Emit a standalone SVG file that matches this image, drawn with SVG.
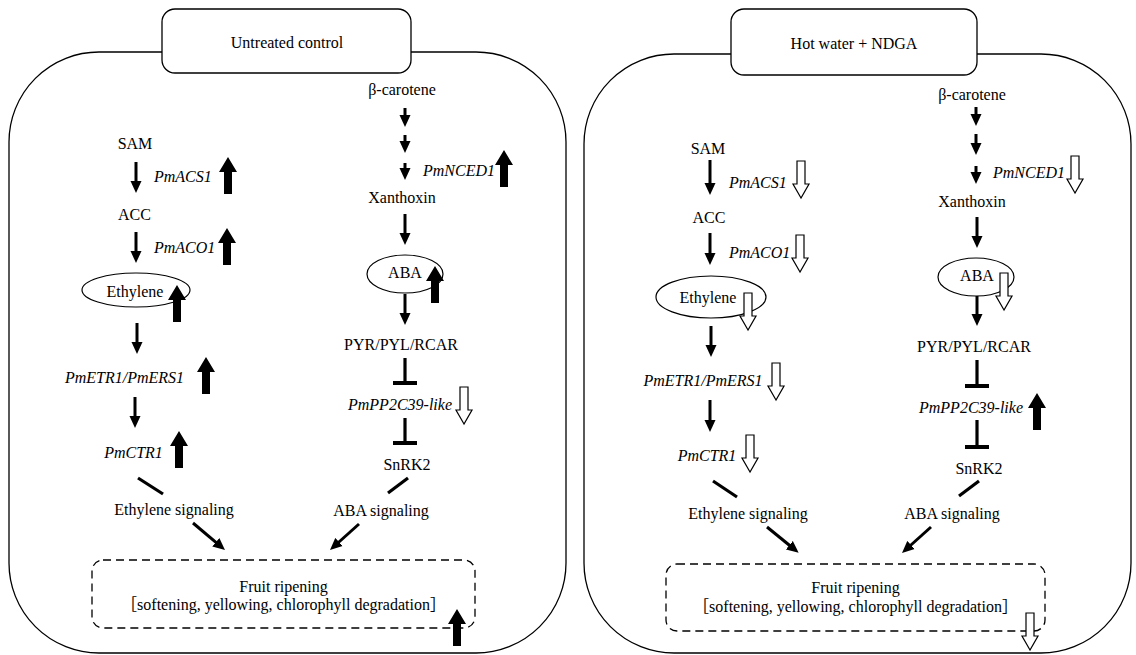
<svg xmlns="http://www.w3.org/2000/svg" width="1136" height="655" viewBox="0 0 1136 655">
<defs>
<style>
text{font-family:'Liberation Serif','DejaVu Serif',serif;font-size:16px;fill:#000}
.br{font-family:'Liberation Serif','Noto Sans CJK SC',serif}
.c{text-anchor:middle}
.i{font-style:italic}
.panel{fill:none;stroke:#000;stroke-width:1.3}
.title{fill:#fff;stroke:#000;stroke-width:1.3}
.dash{fill:none;stroke:#000;stroke-width:1.3;stroke-dasharray:8 5}
.ell{fill:none;stroke:#000;stroke-width:1.2}
.ar{stroke:#000;stroke-width:3;fill:none;marker-end:url(#ah)}
.ln{stroke:#000;stroke-width:3.2;fill:none}
.tb{stroke:#000;stroke-width:4;fill:none}
</style>
<marker id="ah" markerUnits="userSpaceOnUse" markerWidth="12" markerHeight="12" viewBox="0 0 12 12" refX="6" refY="6" orient="auto"><path d="M0,0.5 L12,6 L0,11.5 Z" fill="#000"/></marker>
<path id="up" d="M0,0 L9,15 L4,15 L4,37 L-4,37 L-4,15 L-9,15 Z" fill="#000"/>
<path id="dn" d="M0,0 L-8,-14 L-4,-14 L-4,-37 L4,-37 L4,-14 L8,-14 Z" fill="#fff" stroke="#000" stroke-width="1.2"/>
</defs>
<rect width="1136" height="655" fill="#fff"/>
<g font-family="Liberation Serif, DejaVu Serif, serif">
<!-- LEFT PANEL -->
<g id="panel-left">
<rect class="panel" x="9" y="52" width="557" height="601" rx="90" ry="90"/>
</g>
<g id="title-left">
<rect class="title" x="162" y="9" width="249" height="64" rx="13" ry="13"/>
<text class="c" x="287" y="48">Untreated control</text>
</g>
<g id="L-sam"><text class="c" x="135" y="148.5">SAM</text></g>
<g id="L-acs1"><text class="i" x="154" y="181.5">PmACS1</text><use href="#up" x="228" y="157"/></g>
<g id="L-acc"><text class="c" x="134.5" y="219.5">ACC</text></g>
<g id="L-aco1"><text class="i" x="154" y="252.5">PmACO1</text><use href="#up" x="227" y="228"/></g>
<g id="L-ethylene"><ellipse class="ell" cx="136" cy="290" rx="54" ry="17"/><text class="c" x="135" y="297">Ethylene</text><use href="#up" x="177" y="285"/></g>
<g id="L-etr1"><text class="i c" x="124.5" y="382.5">PmETR1/PmERS1</text><use href="#up" x="206" y="357"/></g>
<g id="L-ctr1"><text class="i c" x="133.5" y="457.5">PmCTR1</text><use href="#up" x="179" y="431"/></g>
<g id="L-ethsig"><text class="c" x="174" y="514.5">Ethylene signaling</text></g>
<g id="L-bcar"><text class="c" x="402" y="95">β-carotene</text></g>
<g id="L-nced1"><text class="i" x="423" y="175.5">PmNCED1</text><use href="#up" x="504" y="150"/></g>
<g id="L-xanth"><text class="c" x="402" y="202.5">Xanthoxin</text></g>
<g id="L-aba"><ellipse class="ell" cx="405" cy="274" rx="38" ry="19"/><text class="c" x="405" y="277.5">ABA</text><use href="#up" x="435" y="266"/></g>
<g id="L-pyr"><text class="c" x="401" y="349.5">PYR/PYL/RCAR</text></g>
<g id="L-pp2c"><text class="i c" x="400" y="409.5">PmPP2C39-like</text><use href="#dn" x="464" y="424"/></g>
<g id="L-snrk2"><text class="c" x="407" y="469.5">SnRK2</text></g>
<g id="L-abasig"><text class="c" x="381" y="515.5">ABA signaling</text></g>
<g id="L-ripening">
<rect class="dash" x="92" y="560" width="383" height="68" rx="11" ry="11"/>
<text class="c" x="283.5" y="592">Fruit ripening</text>
<text class="c br" x="283.5" y="610">［softening, yellowing, chlorophyll degradation］</text>
<use href="#up" x="457" y="609"/>
</g>

<!-- RIGHT PANEL -->
<g id="panel-right">
<rect class="panel" x="584" y="54" width="547" height="599" rx="90" ry="90"/>
</g>
<g id="title-right">
<rect class="title" x="731" y="9" width="246" height="66" rx="13" ry="13"/>
<text class="c" x="854" y="49">Hot water + NDGA</text>
</g>
<g id="R-sam"><text class="c" x="708" y="153.5">SAM</text></g>
<g id="R-acs1"><text class="i" x="729" y="187.5">PmACS1</text><use href="#dn" x="801" y="198"/></g>
<g id="R-acc"><text class="c" x="709" y="222.5">ACC</text></g>
<g id="R-aco1"><text class="i" x="729" y="257.5">PmACO1</text><use href="#dn" x="800" y="272"/></g>
<g id="R-ethylene"><ellipse class="ell" cx="711" cy="297" rx="55" ry="21"/><text class="c" x="708" y="302.5">Ethylene</text><use href="#dn" x="748" y="330"/></g>
<g id="R-etr1"><text class="i c" x="703" y="385.5">PmETR1/PmERS1</text><use href="#dn" x="776" y="400"/></g>
<g id="R-ctr1"><text class="i c" x="707" y="461">PmCTR1</text><use href="#dn" x="750" y="472"/></g>
<g id="R-ethsig"><text class="c" x="748" y="518.5">Ethylene signaling</text></g>
<g id="R-bcar"><text class="c" x="972" y="100">β-carotene</text></g>
<g id="R-nced1"><text class="i" x="993" y="177.5">PmNCED1</text><use href="#dn" x="1075" y="193"/></g>
<g id="R-xanth"><text class="c" x="972" y="206.5">Xanthoxin</text></g>
<g id="R-aba"><ellipse class="ell" cx="976" cy="277" rx="38" ry="19"/><text class="c" x="977" y="280.5">ABA</text><use href="#dn" x="1004" y="310"/></g>
<g id="R-pyr"><text class="c" x="974" y="351.5">PYR/PYL/RCAR</text></g>
<g id="R-pp2c"><text class="i c" x="971" y="412.5">PmPP2C39-like</text><use href="#up" x="1037" y="393"/></g>
<g id="R-snrk2"><text class="c" x="979" y="473.5">SnRK2</text></g>
<g id="R-abasig"><text class="c" x="952" y="518.5">ABA signaling</text></g>
<g id="R-ripening">
<rect class="dash" x="666" y="564" width="379" height="67" rx="11" ry="11"/>
<text class="c" x="855.5" y="593">Fruit ripening</text>
<text class="c br" x="855.5" y="612">［softening, yellowing, chlorophyll degradation］</text>
<use href="#dn" x="1030" y="650"/>
</g>

<!-- CONNECTORS -->
<g id="connectors">
<line class="ar" x1="136" y1="162" x2="136" y2="187"/>
<line class="ar" x1="136" y1="232" x2="136" y2="257"/>
<line class="ar" x1="137" y1="323" x2="137" y2="348"/>
<line class="ar" x1="135" y1="397" x2="135" y2="422"/>
<line class="ar" x1="405" y1="108" x2="405" y2="121"/>
<line class="ar" x1="405" y1="135" x2="405" y2="147"/>
<line class="ar" x1="405" y1="163" x2="405" y2="174"/>
<line class="ar" x1="405" y1="214" x2="405" y2="239"/>
<line class="ar" x1="405" y1="294" x2="405" y2="319"/>
<line class="ln" x1="405" y1="358" x2="405" y2="381"/>
<line class="tb" x1="393" y1="383" x2="417" y2="383"/>
<line class="ln" x1="405" y1="418" x2="405" y2="441"/>
<line class="tb" x1="393" y1="443" x2="417" y2="443"/>
<line class="ln" x1="138" y1="478" x2="163" y2="494"/>
<line class="ln" x1="408" y1="478" x2="388" y2="493"/>
<line class="ar" x1="193" y1="523" x2="220.4" y2="546.1"/>
<line class="ar" x1="359" y1="524" x2="334.5" y2="546"/>

<line class="ar" x1="710" y1="160" x2="710" y2="189"/>
<line class="ar" x1="710" y1="233" x2="710" y2="259"/>
<line class="ar" x1="711" y1="326" x2="711" y2="351"/>
<line class="ar" x1="710" y1="400" x2="710" y2="426"/>
<line class="ar" x1="976" y1="107" x2="976" y2="120"/>
<line class="ar" x1="976" y1="134" x2="976" y2="149"/>
<line class="ar" x1="976" y1="166" x2="976" y2="178"/>
<line class="ar" x1="977" y1="217" x2="977" y2="242"/>
<line class="ar" x1="977" y1="296" x2="977" y2="320"/>
<line class="ln" x1="977" y1="360" x2="977" y2="384"/>
<line class="tb" x1="965" y1="386" x2="989" y2="386"/>
<line class="ln" x1="977" y1="420" x2="977" y2="445"/>
<line class="tb" x1="965" y1="447" x2="989" y2="447"/>
<line class="ln" x1="713" y1="481" x2="737" y2="497"/>
<line class="ln" x1="979" y1="481" x2="959" y2="496"/>
<line class="ar" x1="767" y1="527" x2="794" y2="549"/>
<line class="ar" x1="931" y1="527" x2="906.5" y2="549"/>
</g>
</g>
</svg>
